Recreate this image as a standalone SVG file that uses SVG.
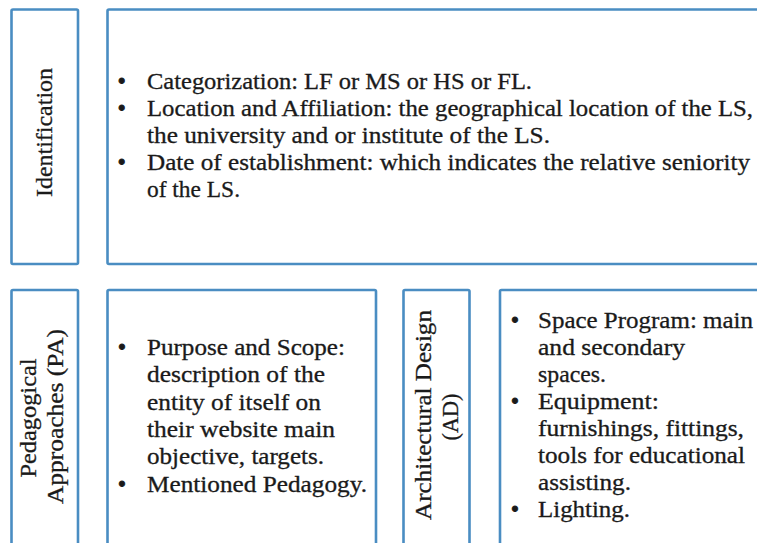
<svg xmlns="http://www.w3.org/2000/svg" width="757" height="543" viewBox="0 0 757 543">
  <style>
    .box { fill: #ffffff; stroke: #4a8dc2; stroke-width: 2.6; }
    .t, .lab { font-family: "Liberation Serif", "Times New Roman", serif; font-size: 22.5px; fill: #1a1a1a; stroke: #1a1a1a; stroke-width: 0.3px; }
    .lab { text-anchor: middle; }
    .b { font-family: "Liberation Serif", "Times New Roman", serif; font-size: 22.5px; fill: #1a1a1a; stroke: #1a1a1a; stroke-width: 1px; text-anchor: middle; }
  </style>
  <rect width="757" height="543" fill="#ffffff"/>

  <!-- Identification -->
  <g id="identification-label">
    <rect class="box" x="11.5" y="9.5" width="66.5" height="254.5" rx="1.5"/>
    <text class="lab" transform="translate(52,132.5) rotate(-90)" textLength="129" lengthAdjust="spacingAndGlyphs">Identification</text>
  </g>
  <g id="identification-content">
    <rect class="box" x="107.5" y="9.5" width="700" height="254.5" rx="1.5"/>
    <text class="b" x="121.7" y="88.5">•</text>
    <text class="t" x="147" y="88.5" textLength="385" lengthAdjust="spacingAndGlyphs">Categorization: LF or MS or HS or FL.</text>
    <text class="b" x="121.7" y="115.5">•</text>
    <text class="t" x="147" y="115.5" textLength="606" lengthAdjust="spacingAndGlyphs">Location and Affiliation: the geographical location of the LS,</text>
    <text class="t" x="147" y="142.5" textLength="403" lengthAdjust="spacingAndGlyphs">the university and or institute of the LS.</text>
    <text class="b" x="121.7" y="169.5">•</text>
    <text class="t" x="147" y="169.5" textLength="603" lengthAdjust="spacingAndGlyphs">Date of establishment: which indicates the relative seniority</text>
    <text class="t" x="147" y="196.5" textLength="93" lengthAdjust="spacingAndGlyphs">of the LS.</text>
  </g>

  <!-- Pedagogical Approaches -->
  <g id="pa-label">
    <rect class="box" x="11.5" y="290" width="66.5" height="300" rx="1.5"/>
    <text class="lab" transform="translate(35.5,418) rotate(-90)" textLength="119" lengthAdjust="spacingAndGlyphs">Pedagogical</text>
    <text class="lab" transform="translate(63,416.5) rotate(-90)" textLength="175" lengthAdjust="spacingAndGlyphs">Approaches (PA)</text>
  </g>
  <g id="pa-content">
    <rect class="box" x="107.5" y="290" width="268.5" height="300" rx="1.5"/>
    <text class="b" x="122" y="355">•</text>
    <text class="t" x="147" y="355" textLength="198" lengthAdjust="spacingAndGlyphs">Purpose and Scope:</text>
    <text class="t" x="147" y="382.3" textLength="178" lengthAdjust="spacingAndGlyphs">description of the</text>
    <text class="t" x="147" y="409.6" textLength="174" lengthAdjust="spacingAndGlyphs">entity of itself on</text>
    <text class="t" x="147" y="436.9" textLength="188" lengthAdjust="spacingAndGlyphs">their website main</text>
    <text class="t" x="147" y="464.2" textLength="177" lengthAdjust="spacingAndGlyphs">objective, targets.</text>
    <text class="b" x="122" y="491.5">•</text>
    <text class="t" x="147" y="491.5" textLength="220" lengthAdjust="spacingAndGlyphs">Mentioned Pedagogy.</text>
  </g>

  <!-- Architectural Design -->
  <g id="ad-label">
    <rect class="box" x="403.5" y="290" width="66" height="300" rx="1.5"/>
    <text class="lab" transform="translate(431,415) rotate(-90)" textLength="210" lengthAdjust="spacingAndGlyphs">Architectural Design</text>
    <text class="lab" transform="translate(458,417) rotate(-90)" textLength="47" lengthAdjust="spacingAndGlyphs">(AD)</text>
  </g>
  <g id="ad-content">
    <rect class="box" x="500" y="290" width="300" height="300" rx="1.5"/>
    <text class="b" x="515" y="328">•</text>
    <text class="t" x="538" y="328" textLength="215" lengthAdjust="spacingAndGlyphs">Space Program: main</text>
    <text class="t" x="538" y="355" textLength="147" lengthAdjust="spacingAndGlyphs">and secondary</text>
    <text class="t" x="538" y="382" textLength="68" lengthAdjust="spacingAndGlyphs">spaces.</text>
    <text class="b" x="515" y="409">•</text>
    <text class="t" x="538" y="409" textLength="121" lengthAdjust="spacingAndGlyphs">Equipment:</text>
    <text class="t" x="538" y="436" textLength="206" lengthAdjust="spacingAndGlyphs">furnishings, fittings,</text>
    <text class="t" x="538" y="463" textLength="207" lengthAdjust="spacingAndGlyphs">tools for educational</text>
    <text class="t" x="538" y="490" textLength="93" lengthAdjust="spacingAndGlyphs">assisting.</text>
    <text class="b" x="515" y="517">•</text>
    <text class="t" x="538" y="517" textLength="92" lengthAdjust="spacingAndGlyphs">Lighting.</text>
  </g>

  <!-- no connectors in this figure -->
  <g id="connectors"/>
</svg>
